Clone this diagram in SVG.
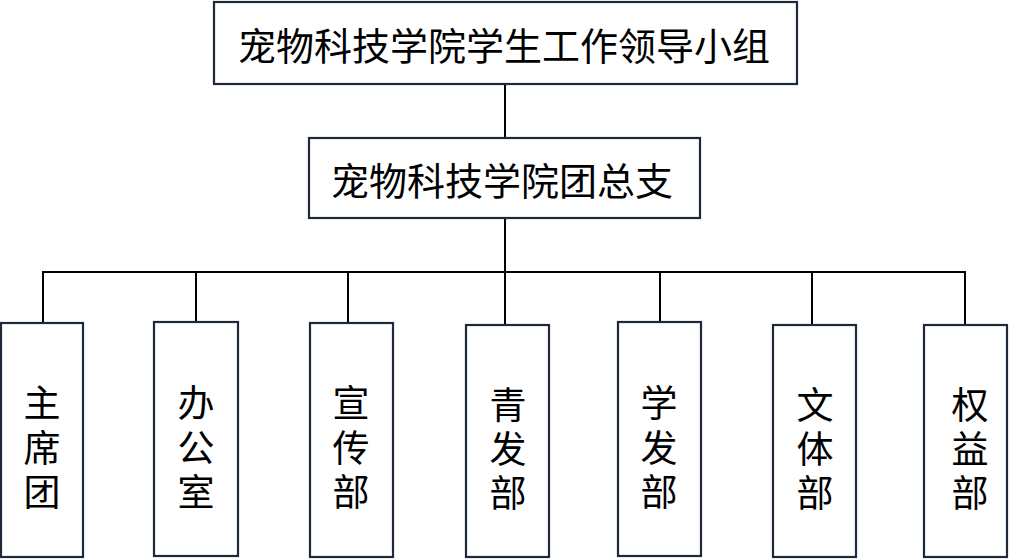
<svg xmlns="http://www.w3.org/2000/svg" width="1011" height="559" viewBox="0 0 1011 559">
<style>
.box{fill:#ffffff;stroke:#1e2a3a;stroke-width:2.2}
.ln{stroke:#000;stroke-width:2;fill:none}
.t{font-family:"Noto Sans CJK SC","Noto Sans",sans-serif;font-size:37px;fill:#000;text-anchor:middle;dominant-baseline:central}
.h{font-size:38px}
</style>
<rect width="1011" height="559" fill="#fff"/>
<g id="connectors">
<line class="ln" x1="505" y1="84" x2="505" y2="138"/>
<line class="ln" x1="505" y1="218" x2="505" y2="325"/>
<line class="ln" x1="42" y1="272" x2="966" y2="272"/>
<line class="ln" x1="43" y1="271" x2="43" y2="323"/>
<line class="ln" x1="196" y1="271" x2="196" y2="322"/>
<line class="ln" x1="348" y1="271" x2="348" y2="323"/>
<line class="ln" x1="660" y1="271" x2="660" y2="322"/>
<line class="ln" x1="812" y1="271" x2="812" y2="325"/>
<line class="ln" x1="965" y1="271" x2="965" y2="325"/>
</g>
<g id="n-top">
<rect class="box" x="214" y="2" width="583" height="82"/>
<text class="t h" x="504" y="43">宠物科技学院学生工作领导小组</text>
</g>
<g id="n-mid">
<rect class="box" x="309" y="138" width="391" height="80"/>
<text class="t h" x="502" y="178">宠物科技学院团总支</text>
</g>
<g id="n1">
<rect class="box" x="1" y="323" width="82" height="234"/>
<text class="t"><tspan x="42" y="401">主</tspan><tspan x="42" y="446">席</tspan><tspan x="42" y="490">团</tspan></text>
</g>
<g id="n2">
<rect class="box" x="154" y="322" width="84" height="234"/>
<text class="t"><tspan x="196" y="401">办</tspan><tspan x="196" y="446">公</tspan><tspan x="196" y="490">室</tspan></text>
</g>
<g id="n3">
<rect class="box" x="310" y="323" width="83" height="234"/>
<text class="t"><tspan x="351" y="401">宣</tspan><tspan x="351" y="446">传</tspan><tspan x="351" y="490">部</tspan></text>
</g>
<g id="n4">
<rect class="box" x="466" y="325" width="83" height="232"/>
<text class="t"><tspan x="508" y="403">青</tspan><tspan x="508" y="447">发</tspan><tspan x="508" y="491">部</tspan></text>
</g>
<g id="n5">
<rect class="box" x="618" y="322" width="83" height="234"/>
<text class="t"><tspan x="659" y="401">学</tspan><tspan x="659" y="446">发</tspan><tspan x="659" y="490">部</tspan></text>
</g>
<g id="n6">
<rect class="box" x="773" y="325" width="83" height="232"/>
<text class="t"><tspan x="815" y="403">文</tspan><tspan x="815" y="447">体</tspan><tspan x="815" y="491">部</tspan></text>
</g>
<g id="n7">
<rect class="box" x="924" y="325" width="83" height="232"/>
<text class="t"><tspan x="970" y="403">权</tspan><tspan x="970" y="447">益</tspan><tspan x="970" y="491">部</tspan></text>
</g>
</svg>
